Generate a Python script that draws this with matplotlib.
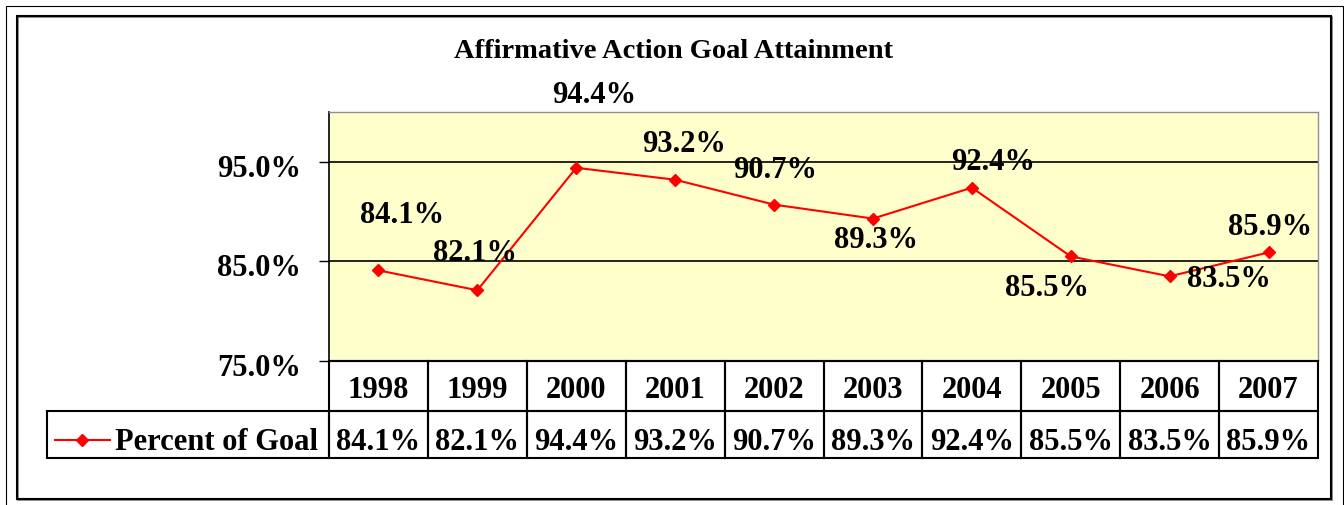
import matplotlib.pyplot as plt
from matplotlib.patches import Rectangle
from matplotlib.lines import Line2D
from matplotlib.transforms import blended_transform_factory, ScaledTranslation

W, H = 1344, 505

years = ['1998', '1999', '2000', '2001', '2002', '2003', '2004', '2005', '2006', '2007']
goal = [84.1, 82.1, 94.4, 93.2, 90.7, 89.3, 92.4, 85.5, 83.5, 85.9]
series_name = 'Percent of Goal'
yticks = [75, 85, 95]

# label offsets from each point, pixels (dx, dy up)
lab_off = [(24, 47), (-2, 29), (18, 65), (9, 28), (1, 27),
           (3, -29), (21, 18), (-24, -40), (59, -11), (2, 17)]

FONT = 'Liberation Serif'
plt.rcParams['font.family'] = FONT
plt.rcParams['font.weight'] = 'bold'

def fx(x):
    return x / W

def fy(y):
    return 1 - y / H

fig = plt.figure(figsize=(W / 100, H / 100), dpi=100)
fig.patch.set_facecolor('white')

# outer and inner frames
fig.add_artist(Rectangle((fx(6), fy(510)), fx(1343) - fx(6), fy(6) - fy(510),
                         transform=fig.transFigure, fill=False, lw=0.8, ec='black'))
fig.add_artist(Rectangle((fx(18), fy(500)), fx(1332) - fx(18), fy(17) - fy(500),
                         transform=fig.transFigure, fill=False, lw=1.2, ec='#808080'))
fig.add_artist(Rectangle((fx(17), fy(499)), fx(1331) - fx(17), fy(16) - fy(499),
                         transform=fig.transFigure, fill=False, lw=1.5, ec='black'))

L, R, T, B = 329, 1318, 112, 361
pw, ph = R - L, B - T
ax = fig.add_axes([fx(L), fy(B), fx(R) - fx(L), fy(T) - fy(B)])
ax.set_facecolor('#FFFFCC')
x = list(range(len(years)))
ax.plot(x, goal, color='#FF0000', lw=1.5, marker='D', ms=6.5, zorder=3)
ax.set_xlim(-0.5, len(years) - 0.5)
ax.set_ylim(75, 100)
ax.set_yticks(yticks)
ax.set_yticklabels(['%.1f%%' % v for v in yticks], fontsize=22, fontweight='bold')
ax.tick_params(axis='y', length=7, width=1, pad=13, color='black')
shift = ScaledTranslation(0, -4 / 100, fig.dpi_scale_trans)
for lab in ax.get_yticklabels():
    lab.set_transform(lab.get_transform() + shift)
ax.set_xticks([])
ax.yaxis.grid(True, color='black', lw=1.2)
ax.set_axisbelow(True)
for s in ['top', 'right']:
    ax.spines[s].set_color('#909090')
    ax.spines[s].set_linewidth(1)
ax.spines['left'].set_linewidth(1.2)
ax.spines['bottom'].set_linewidth(1.5)

for i, v in enumerate(goal):
    ax.annotate('%.1f%%' % v, (i, v), xytext=lab_off[i], textcoords='offset pixels',
                ha='center', va='baseline', fontsize=22, fontweight='bold',
                annotation_clip=False, zorder=4)

fig.text(fx(673), fy(58), 'Affirmative Action Goal Attainment', ha='center',
         va='baseline', fontsize=20.5, fontweight='bold')

# data table under the plot (x in data units, y in axes units)
bt = blended_transform_factory(ax.transData, ax.transAxes)

def ay(ypix):
    return (B - ypix) / ph

row1_bot, row2_bot = 411, 458
for i, yr in enumerate(years):
    for top, bot in [(B, row1_bot), (row1_bot, row2_bot)]:
        ax.add_patch(Rectangle((i - 0.5, ay(bot)), 1, ay(top) - ay(bot), transform=bt,
                               fill=False, ec='black', lw=1.5, clip_on=False))
    ax.text(i, ay(398), yr, transform=bt, ha='center', va='baseline',
            fontsize=22, fontweight='bold')
    ax.text(i, ay(450), '%.1f%%' % goal[i], transform=bt, ha='center', va='baseline',
            fontsize=22, fontweight='bold')

tb_left = 47
ax.add_patch(Rectangle(((tb_left - L) / pw, ay(row2_bot)), (L - tb_left) / pw,
                       ay(row1_bot) - ay(row2_bot), transform=ax.transAxes,
                       fill=False, ec='black', lw=1.5, clip_on=False))
ax.text((318 - L) / pw, ay(450), series_name, transform=ax.transAxes, ha='right',
        va='baseline', fontsize=22, fontweight='bold')

# legend key in the row label cell
ly = fy(440)
fig.add_artist(Line2D([fx(55), fx(110)], [ly, ly], color='#FF0000', lw=1.5,
                      transform=fig.transFigure))
fig.add_artist(Line2D([fx(82)], [ly], color='#FF0000', marker='D', ms=6.5,
                      transform=fig.transFigure))

fig.savefig('out.png', dpi=100, facecolor='white')
